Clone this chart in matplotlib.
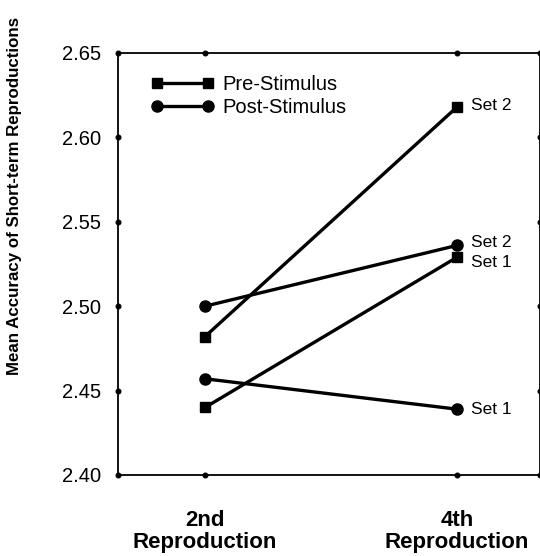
import matplotlib
matplotlib.use("Agg")
import matplotlib.pyplot as plt

plt.rcParams["font.family"] = ["Liberation Sans", "DejaVu Sans"]

# Data
stages = ["2nd\nReproduction", "4th\nReproduction"]
pre_set1 = [2.440, 2.529]
pre_set2 = [2.482, 2.618]
post_set1 = [2.457, 2.439]
post_set2 = [2.500, 2.536]
yticks = [2.40, 2.45, 2.50, 2.55, 2.60, 2.65]
ytick_labels = ["2.40", "2.45", "2.50", "2.55", "2.60", "2.65"]

W, H = 540, 556
fig = plt.figure(figsize=(W / 100, H / 100), dpi=100)
ax = fig.add_axes([118 / W, 81 / H, 421.5 / W, 422 / H])

x = [0, 1]
lw = 2.4
ax.plot(x, pre_set1, color="black", lw=lw, marker="s", ms=7.5, label="Pre-Stimulus")
ax.plot(x, pre_set2, color="black", lw=lw, marker="s", ms=7.5)
ax.plot(x, post_set1, color="black", lw=lw, marker="o", ms=8, label="Post-Stimulus")
ax.plot(x, post_set2, color="black", lw=lw, marker="o", ms=8)

ax.set_xlim(-87 / 252, 1 + 82.5 / 252)
ax.set_ylim(2.40, 2.65)

ax.set_yticks(yticks)
ax.set_yticklabels(ytick_labels, fontsize=14.5)
ax.set_xticks(x)
ax.set_xticklabels(stages, fontsize=16, fontweight="bold", linespacing=1.05)

ax.tick_params(axis="y", which="both", right=True, length=0, pad=12)
ax.tick_params(axis="x", which="both", top=True, length=0, pad=25)
for t in ax.yaxis.get_major_ticks() + ax.xaxis.get_major_ticks():
    for ln in (t.tick1line, t.tick2line):
        ln.set_marker("o")
        ln.set_markersize(3.5)
        ln.set_markerfacecolor("black")
        ln.set_markeredgecolor("black")

for s in ax.spines.values():
    s.set_linewidth(1.3)

# Set labels at the 4th reproduction
fs_set = 12.5
ax.annotate("Set 2", (1, pre_set2[1]), xytext=(10, 1), textcoords="offset points",
            va="center", ha="left", fontsize=fs_set)
ax.annotate("Set 2", (1, post_set2[1]), xytext=(10, 2), textcoords="offset points",
            va="center", ha="left", fontsize=fs_set)
ax.annotate("Set 1", (1, pre_set1[1]), xytext=(10, -4), textcoords="offset points",
            va="center", ha="left", fontsize=fs_set)
ax.annotate("Set 1", (1, post_set1[1]), xytext=(10, 0), textcoords="offset points",
            va="center", ha="left", fontsize=fs_set)

leg = ax.legend(loc="upper left", bbox_to_anchor=(0.060, 0.968), frameon=False,
                numpoints=2, handlelength=3.1, fontsize=14.5, handletextpad=0.45,
                labelspacing=0.2, borderaxespad=0)

fig.text(15 / W, 1 - 196 / H, "Mean Accuracy of Short-term Reproductions",
         rotation=90, ha="center", va="center", fontsize=12.2, fontweight="bold")

fig.savefig("out.png", dpi=100)
